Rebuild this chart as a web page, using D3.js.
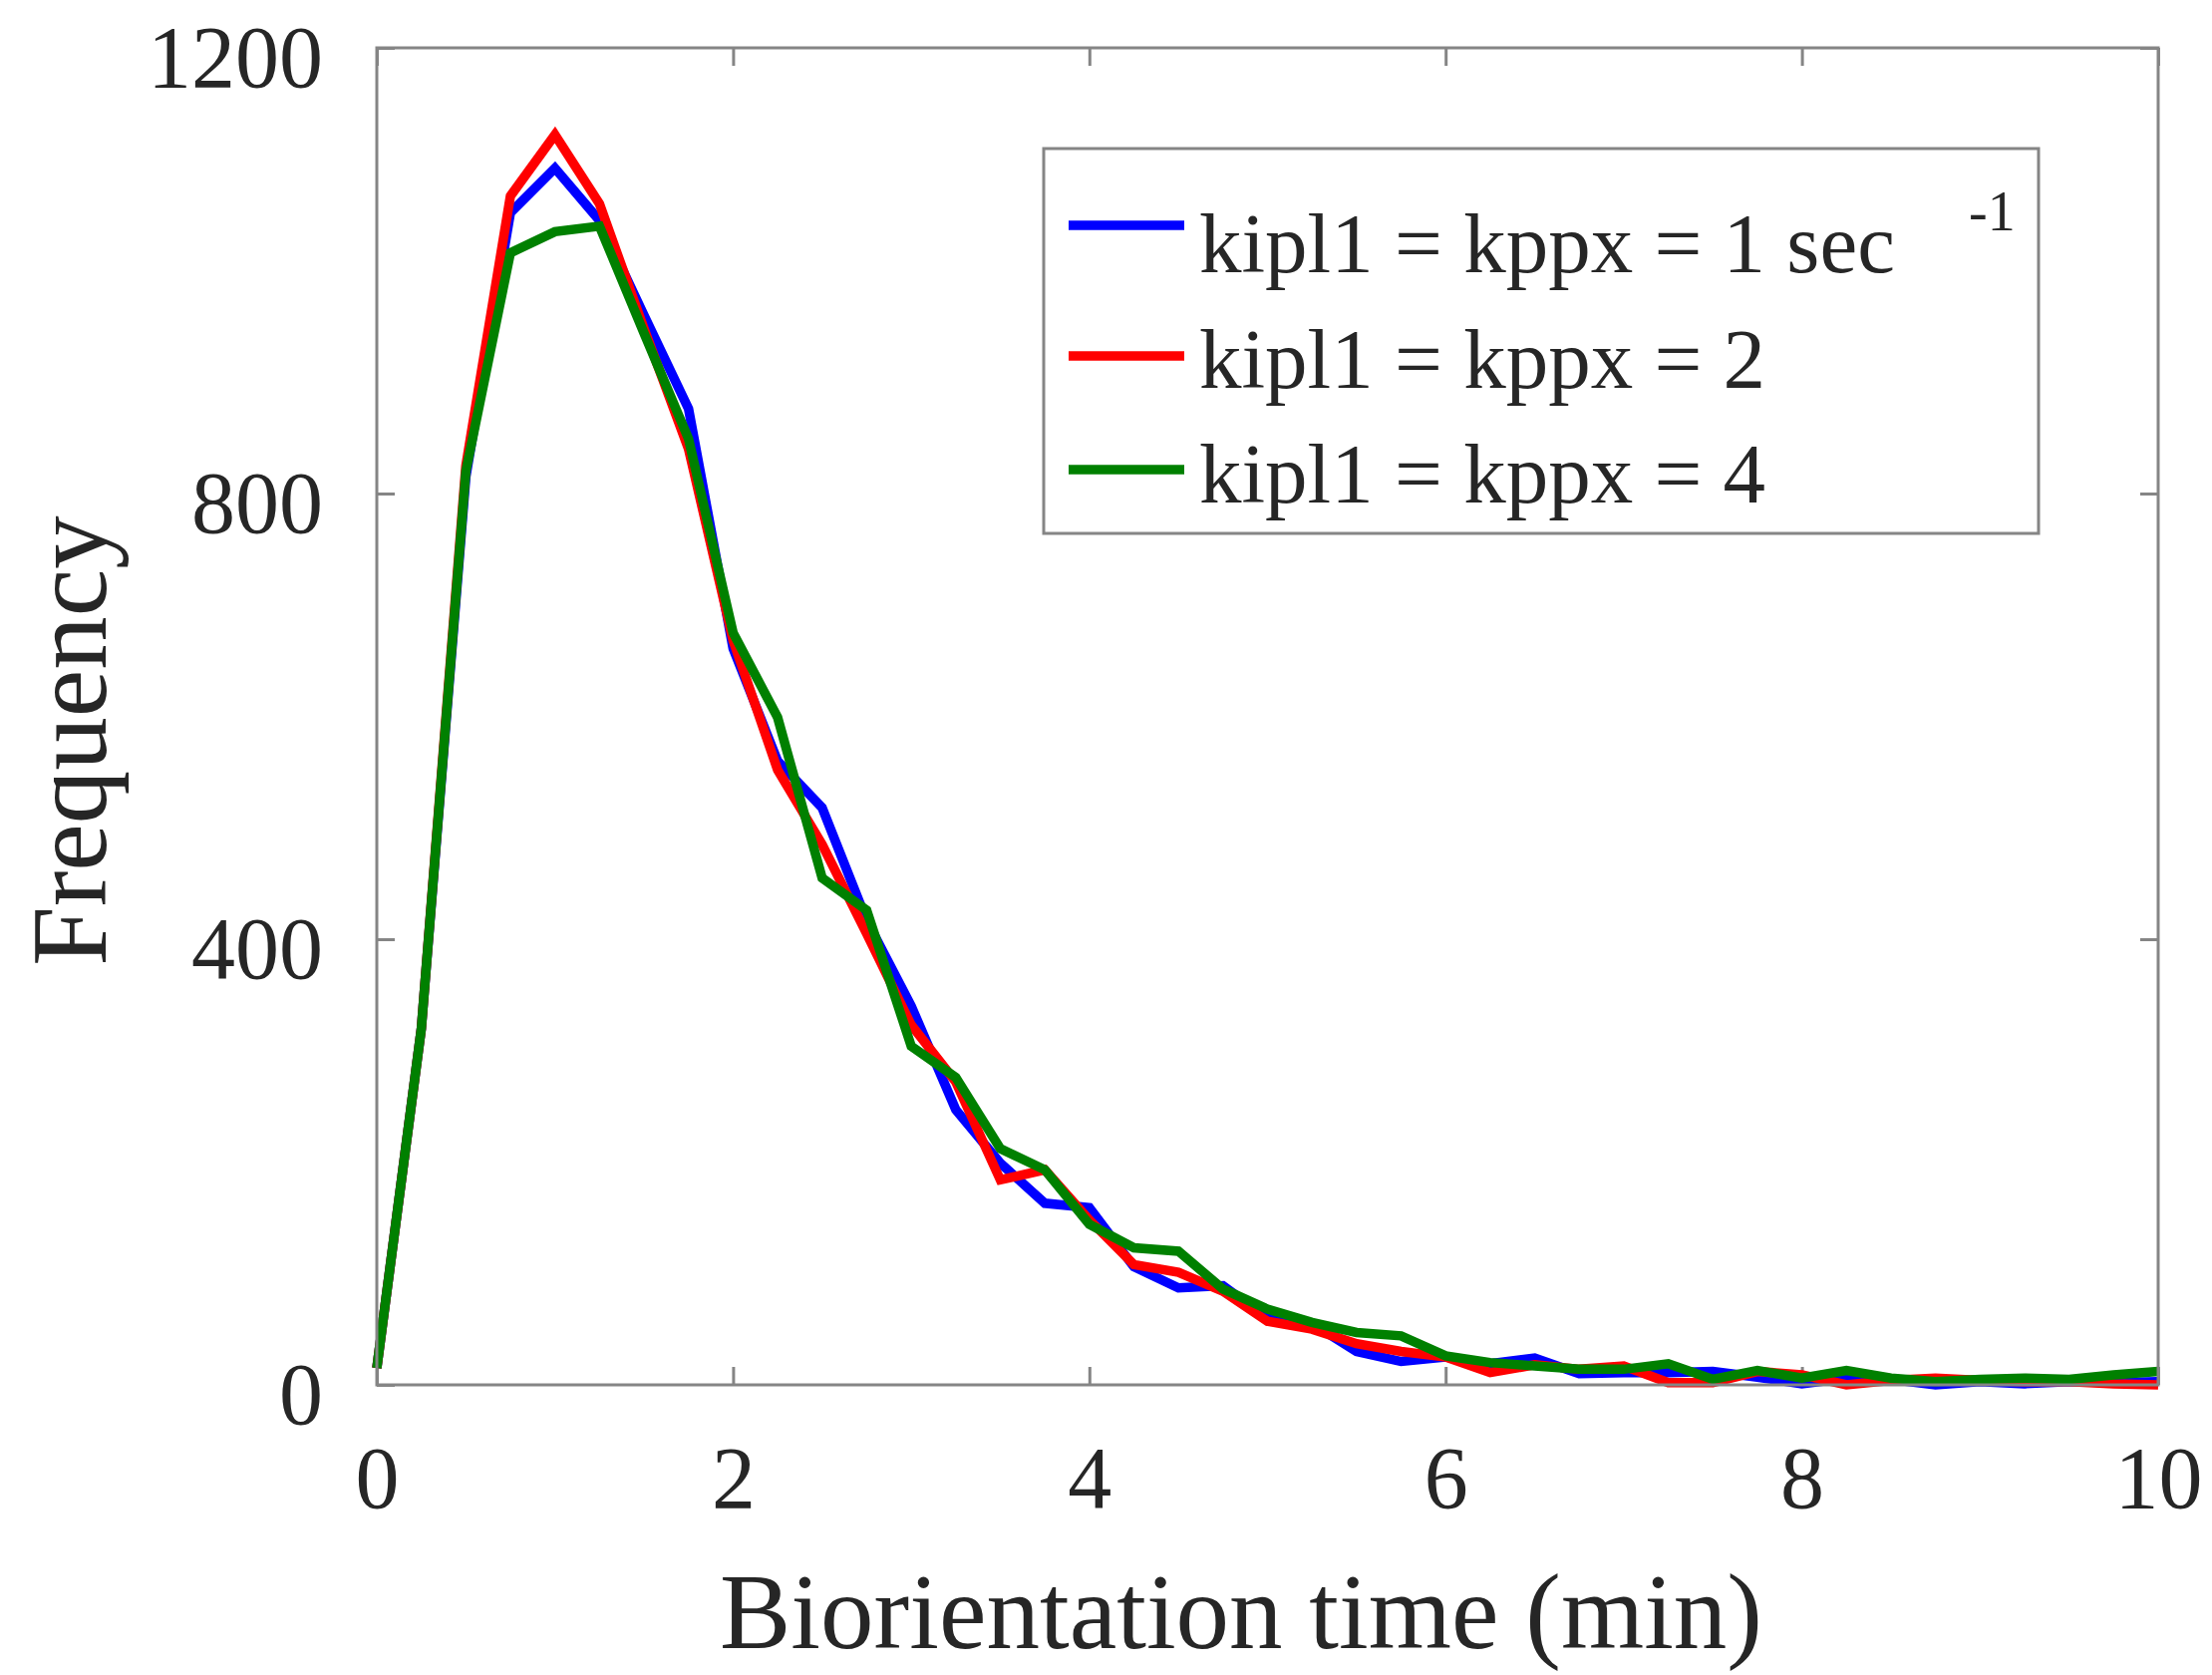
<!DOCTYPE html>
<html>
<head>
<meta charset="utf-8">
<script src="https://cdn.jsdelivr.net/npm/d3@7"></script>
<style>
	body{margin:0;background:#fff;}
	svg{display:block;}
	text{font-family:"Liberation Serif","Times New Roman",serif;fill:#262626;}
</style>
</head>
<body>
<svg id="chart" width="2219" height="1680"></svg>
<script>
// biorientation time bins (min)
const times = [0,0.25,0.5,0.75,1,1.25,1.5,1.75,2,2.25,2.5,2.75,3,3.25,3.5,3.75,4,4.25,4.5,4.75,5,
	5.25,5.5,5.75,6,6.25,6.5,6.75,7,7.25,7.5,7.75,8,8.25,8.5,8.75,9,9.25,9.5,9.75,10];
// frequency per bin
const rate1 = [15,320,815,1052,1092,1045,960,876,661,560,518,417,340,247,199,163,159,106,87,89,60,
	55,30,21,25,19,24,10,11,11,12,7,1,6,5,0,3,1,3,2,3];
const rate2 = [15,320,825,1067,1122,1060,948,840,668,552,485,405,323,272,184,193,148,108,101,84,57,
	50,37,30,25,11,18,14,17,2,2,12,9,0,4,6,4,3,3,1,0];
const rate4 = [15,320,820,1016,1035,1040,944,849,675,599,455,426,304,276,212,193,144,123,120,86,68,
	56,47,44,26,20,17,14,14,19,5,13,6,13,6,3,5,6,5,9,12];
const seriesNames = ['kipl1 = kppx = 1 sec','kipl1 = kppx = 2','kipl1 = kppx = 4'];
const seriesColors = ['#0000ff','#ff0000','#008000'];
const xTicks = [0,2,4,6,8,10];
const yTicks = [0,400,800,1200];

const svg = d3.select('#chart');
const plotL = 378, plotR = 2165, plotT = 48, plotB = 1389;

const x = d3.scaleLinear().domain([0,10]).range([plotL,plotR]);
const y = d3.scaleLinear().domain([0,1200]).range([plotB,plotT]);

const tickFont = 88;
const axisGrey = '#858585';

// inward ticks on all four sides
const xAxis = d3.axisBottom(x).tickValues(xTicks).tickFormat(d3.format('d'))
	.tickSizeInner(-18).tickSizeOuter(0).tickPadding(61);
const yAxis = d3.axisLeft(y).tickValues(yTicks).tickFormat(d3.format('d'))
	.tickSizeInner(-18).tickSizeOuter(0).tickPadding(54);
const xTop = d3.axisTop(x).tickValues(xTicks).tickSizeInner(-18).tickSizeOuter(0).tickFormat('');
const yRight = d3.axisRight(y).tickValues(yTicks).tickSizeInner(-18).tickSizeOuter(0).tickFormat('');

const styleAxis = g => {
	g.select('.domain').remove();
	g.selectAll('.tick line').attr('stroke',axisGrey).attr('stroke-width',3);
	g.selectAll('.tick text').attr('font-size',tickFont).attr('font-family',null).attr('fill','#262626');
};

svg.append('g').attr('transform',`translate(0,${plotB})`).call(xAxis).call(styleAxis);
svg.append('g').attr('transform',`translate(${plotL},0)`).call(yAxis).call(styleAxis)
	.selectAll('.tick text').attr('dy','0.44em');
svg.append('g').attr('transform',`translate(0,${plotT})`).call(xTop).call(styleAxis);
svg.append('g').attr('transform',`translate(${plotR},0)`).call(yRight).call(styleAxis);

// lines
const line = d3.line().x((d,i) => x(times[i])).y(d => y(d));
[rate1,rate2,rate4].forEach((s,i) => {
	svg.append('path')
		.datum(s)
		.attr('fill','none')
		.attr('stroke',seriesColors[i])
		.attr('stroke-width',9.5)
		.attr('stroke-linejoin','miter')
		.attr('d',line);
});

// axes box
svg.append('rect')
	.attr('x',plotL).attr('y',plotT)
	.attr('width',plotR-plotL).attr('height',plotB-plotT)
	.attr('fill','none').attr('stroke',axisGrey).attr('stroke-width',3);

// axis labels
svg.append('text')
	.attr('x',1245).attr('y',1653)
	.attr('text-anchor','middle')
	.attr('font-size',107)
	.text('Biorientation time (min)');
svg.append('text')
	.attr('transform','translate(106,743) rotate(-90)')
	.attr('text-anchor','middle')
	.attr('font-size',107)
	.text('Frequency');

// legend
const legend = svg.append('g');
legend.append('rect')
	.attr('x',1047).attr('y',149).attr('width',998).attr('height',386)
	.attr('fill','#fff').attr('stroke',axisGrey).attr('stroke-width',3);
const lineY = [226,357,471];
const textY = [273,389,504];
seriesNames.forEach((name,i) => {
	legend.append('line')
		.attr('x1',1072).attr('x2',1188)
		.attr('y1',lineY[i]).attr('y2',lineY[i])
		.attr('stroke',seriesColors[i]).attr('stroke-width',9.5);
	legend.append('text')
		.attr('x',1203).attr('y',textY[i])
		.attr('font-size',85)
		.text(name);
});
legend.append('text')
	.attr('x',1975).attr('y',231)
	.attr('font-size',56)
	.text('-1');
</script>
</body>
</html>
